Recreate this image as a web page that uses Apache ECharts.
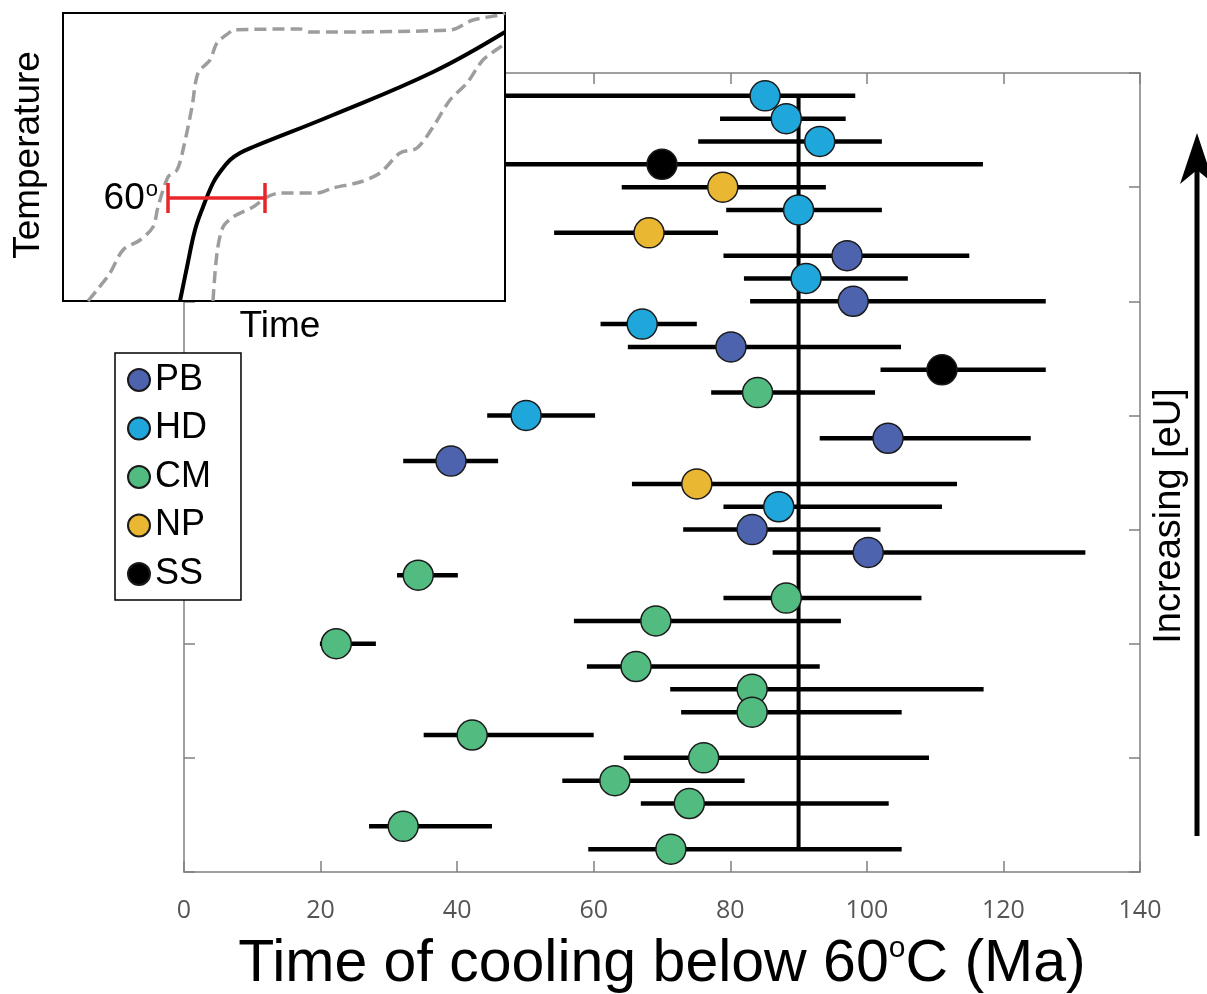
<!DOCTYPE html>
<html>
<head>
<meta charset="utf-8">
<script src="https://cdn.jsdelivr.net/npm/echarts@6/dist/echarts.min.js"></script>
<style>
html,body{margin:0;padding:0;background:#fff;}
#chart{width:1207px;height:994px;}
</style>
</head>
<body>
<div id="chart"></div>
<script>
// ---- main data (rows from top to bottom, 1..34) ----
const groups = ['HD','HD','HD','SS','NP','HD','NP','PB','HD','PB','HD','PB','SS','CM','HD','PB','PB','NP','HD','PB','PB','CM','CM','CM','CM','CM','CM','CM','CM','CM','CM','CM','CM','CM'];
const ages   = [85.1,88.2,93.1,70,78.9,90,68.1,97.1,91.1,98,67.1,80.1,111,84,50.1,103.1,39.1,75.1,87.1,83.2,100.2,34.3,88.2,69.1,22.3,66.2,83.2,83.2,42.2,76.1,63.1,74,32.1,71.3];
const ageLow = [30,78.5,75.3,35,64.1,79.4,54.2,79,82,82.9,61,65,102,77.2,44.4,93.1,32.1,65.6,79,73.1,86.2,31.2,79,57.1,19.9,59,71.2,72.8,35.1,64.4,55.4,66.9,27.1,59.2];
const ageHigh= [98.3,96.9,102.2,117,94,102.2,78.2,115,106,126.2,75.1,105,126.2,101.2,60.2,124,46,113.2,111,102,132,40.1,108,96.2,28.1,93.1,117.1,105.1,60,109.1,82.1,103.2,45.1,105.1];
const legendNames = ['PB','HD','CM','NP','SS'];
const groupColors = ['#4e63ae','#1fa7dc','#52bb80','#e9b731','#000000'];
const refAge = 90;
const refRows = [1, 34];
const xTicks = [0,20,40,60,80,100,120,140];

// ---- inset schematic curves (inset units: x 0..442, y 0..288) ----
const insetBest = [[117,0],[124,34],[132,71],[140,94],[150,118],[157,129],[167,141],[177,148],[190,154],[270,186],[370,229],[442,269]];
const insetUpper = [[25,0],[34,11],[47,28],[60,51],[77,61],[90,74],[95,94],[105,124],[114,131],[120,151],[129,194],[135,228],[147,241],[154,258],[167,269],[170,271],[237,272],[247,269],[387,271],[410,281],[437,286],[442,288]];
const insetLower = [[150,0],[154,48],[160,74],[170,84],[190,94],[204,104],[217,108],[254,108],[270,113],[297,119],[317,128],[337,148],[354,153],[370,174],[387,201],[404,218],[420,241],[440,256],[442,258]];
const insetBar = [[105,103],[202,103]];

const rows = ages.map((_, i) => i + 1);
const errData = rows.map((r, i) => [r, ageLow[i], ageHigh[i]]);

const scatterSeries = legendNames.map((name, k) => ({
  name: name,
  type: 'scatter',
  xAxisIndex: 0, yAxisIndex: 0,
  symbol: 'circle',
  symbolSize: 30,
  z: 5,
  itemStyle: { color: groupColors[k], borderColor: '#1a1a1a', borderWidth: 1.5, opacity: 1 },
  data: rows.filter((r, i) => groups[i] === name).map(r => [ages[r - 1], r])
}));

const axisGray = '#808080';
const chart = echarts.init(document.getElementById('chart'), null, { renderer: 'canvas' });
const option = {
  backgroundColor: '#fff',
  animation: false,
  grid: [
    { left: 184, top: 73, width: 956, height: 799, show: false, containLabel: false, outerBoundsMode: 'none' },
    { left: 63, top: 13, width: 442, height: 288, show: true, backgroundColor: '#fff', borderColor: '#000', borderWidth: 2, zlevel: 1, z: 0, containLabel: false, outerBoundsMode: 'none' }
  ],
  xAxis: [
    {
      gridIndex: 0, type: 'value', position: 'bottom', min: 0, max: 140, interval: 20,
      axisLine: { show: true, onZero: false, lineStyle: { color: axisGray, width: 1.5 } },
      axisTick: { show: true, inside: true, length: 11, lineStyle: { color: axisGray, width: 1.5 } },
      splitLine: { show: false },
      axisLabel: { show: true, margin: 26, color: '#555', fontSize: 25, fontFamily: 'Open Sans', formatter: v => xTicks.indexOf(v) >= 0 ? String(v) : '' },
      name: '{a|Time of cooling below 60}{b|o}{a|C (Ma)}',
      nameLocation: 'middle', nameGap: 62,
      nameTextStyle: {
        rich: {
          a: { fontSize: 59, fontFamily: 'Liberation Sans', color: '#000', lineHeight: 62 },
          b: { fontSize: 30, fontFamily: 'Liberation Sans', color: '#000', verticalAlign: 'top', lineHeight: 62, padding: [0, 0, 22, 0] }
        }
      }
    },
    {
      gridIndex: 0, type: 'value', position: 'top', min: 0, max: 140, interval: 20,
      axisLine: { show: true, onZero: false, lineStyle: { color: axisGray, width: 1.5 } },
      axisTick: { show: true, inside: true, length: 11, lineStyle: { color: axisGray, width: 1.5 } },
      splitLine: { show: false }, axisLabel: { show: false }
    },
    { gridIndex: 1, type: 'value', min: 0, max: 442, show: false }
  ],
  yAxis: [
    {
      gridIndex: 0, type: 'value', position: 'left', min: 0, max: 35, interval: 5, inverse: true,
      axisLine: { show: true, onZero: false, lineStyle: { color: axisGray, width: 1.5 } },
      axisTick: { show: true, inside: true, length: 11, lineStyle: { color: axisGray, width: 1.5 } },
      splitLine: { show: false }, axisLabel: { show: false }
    },
    {
      gridIndex: 0, type: 'value', position: 'right', min: 0, max: 35, interval: 5, inverse: true,
      axisLine: { show: true, onZero: false, lineStyle: { color: axisGray, width: 1.5 } },
      axisTick: { show: true, inside: true, length: 11, lineStyle: { color: axisGray, width: 1.5 } },
      splitLine: { show: false }, axisLabel: { show: false }
    },
    { gridIndex: 1, type: 'value', min: 0, max: 288, show: false }
  ],
  legend: {
    data: legendNames,
    orient: 'vertical',
    left: 115, top: 353,
    backgroundColor: '#fff',
    borderColor: '#000', borderWidth: 1.5, borderRadius: 0,
    padding: [9, 30, 8, 12],
    itemGap: 12.5,
    itemWidth: 22, itemHeight: 22,
    icon: 'circle',
    selectedMode: false,
    textStyle: { fontSize: 36, fontFamily: 'Liberation Sans', color: '#000', lineHeight: 36 },
    z: 10
  },
  series: [
    {
      name: 'errors', type: 'custom', xAxisIndex: 0, yAxisIndex: 0, z: 2,
      encode: { x: [1, 2], y: 0 },
      data: errData,
      renderItem: function (params, api) {
        const p1 = api.coord([api.value(1), api.value(0)]);
        const p2 = api.coord([api.value(2), api.value(0)]);
        return { type: 'line', shape: { x1: p1[0], y1: p1[1], x2: p2[0], y2: p2[1] }, style: { stroke: '#000', lineWidth: 4.5 } };
      }
    },
    {
      name: 'ref', type: 'line', xAxisIndex: 0, yAxisIndex: 0, z: 3,
      symbol: 'none', lineStyle: { color: '#000', width: 4 },
      data: refRows.map(r => [refAge, r])
    },
    ...scatterSeries,
    {
      name: 'upper', type: 'line', xAxisIndex: 2, yAxisIndex: 2, zlevel: 1, z: 3,
      symbol: 'none', smooth: 0.3, clip: true,
      lineStyle: { color: '#9d9d9f', width: 3.5, type: [12, 6] },
      data: insetUpper
    },
    {
      name: 'lower', type: 'line', xAxisIndex: 2, yAxisIndex: 2, zlevel: 1, z: 3,
      symbol: 'none', smooth: 0.3, clip: true,
      lineStyle: { color: '#9d9d9f', width: 3.5, type: [12, 6] },
      data: insetLower
    },
    {
      name: 'best', type: 'line', xAxisIndex: 2, yAxisIndex: 2, zlevel: 1, z: 4,
      symbol: 'none', smooth: 0.4, clip: true,
      lineStyle: { color: '#000', width: 4 },
      data: insetBest
    },
    {
      name: 'bar60', type: 'line', xAxisIndex: 2, yAxisIndex: 2, zlevel: 1, z: 5,
      symbol: 'rect', symbolSize: [3.5, 30], showSymbol: true,
      itemStyle: { color: '#e8262a' },
      lineStyle: { color: '#e8262a', width: 3.5 },
      data: insetBar
    }
  ],
  graphic: [
    { type: 'text', zlevel: 1, z: 10, x: 29, y: 155, rotation: Math.PI / 2,
      style: { text: 'Temperature', fontSize: 37, fontFamily: 'Liberation Sans', fill: '#000', align: 'center', verticalAlign: 'middle' } },
    { type: 'text', zlevel: 1, z: 10, x: 280, y: 327,
      style: { text: 'Time', fontSize: 37, fontFamily: 'Liberation Sans', fill: '#000', align: 'center', verticalAlign: 'middle' } },
    { type: 'text', zlevel: 1, z: 10, x: 158, y: 199,
      style: { text: '{a|60}{b|o}', align: 'right', verticalAlign: 'middle',
        rich: { a: { fontSize: 37, fontFamily: 'Liberation Sans', fill: '#000', lineHeight: 40 },
                b: { fontSize: 22, fontFamily: 'Liberation Sans', fill: '#000', verticalAlign: 'top', lineHeight: 40, padding: [0, 0, 10, 1] } } } },
    { type: 'text', z: 10, x: 1170, y: 516, rotation: Math.PI / 2,
      style: { text: 'Increasing [eU]', fontSize: 38, fontFamily: 'Liberation Sans', fill: '#000', align: 'center', verticalAlign: 'middle' } },
    { type: 'line', z: 10, shape: { x1: 1197, y1: 836, x2: 1197, y2: 165 }, style: { stroke: '#000', lineWidth: 5 } },
    { type: 'polygon', z: 10, shape: { points: [[1197, 133], [1180, 184], [1197, 170], [1214, 184]] }, style: { fill: '#000' } }
  ]
};
chart.setOption(option);
</script>
</body>
</html>
